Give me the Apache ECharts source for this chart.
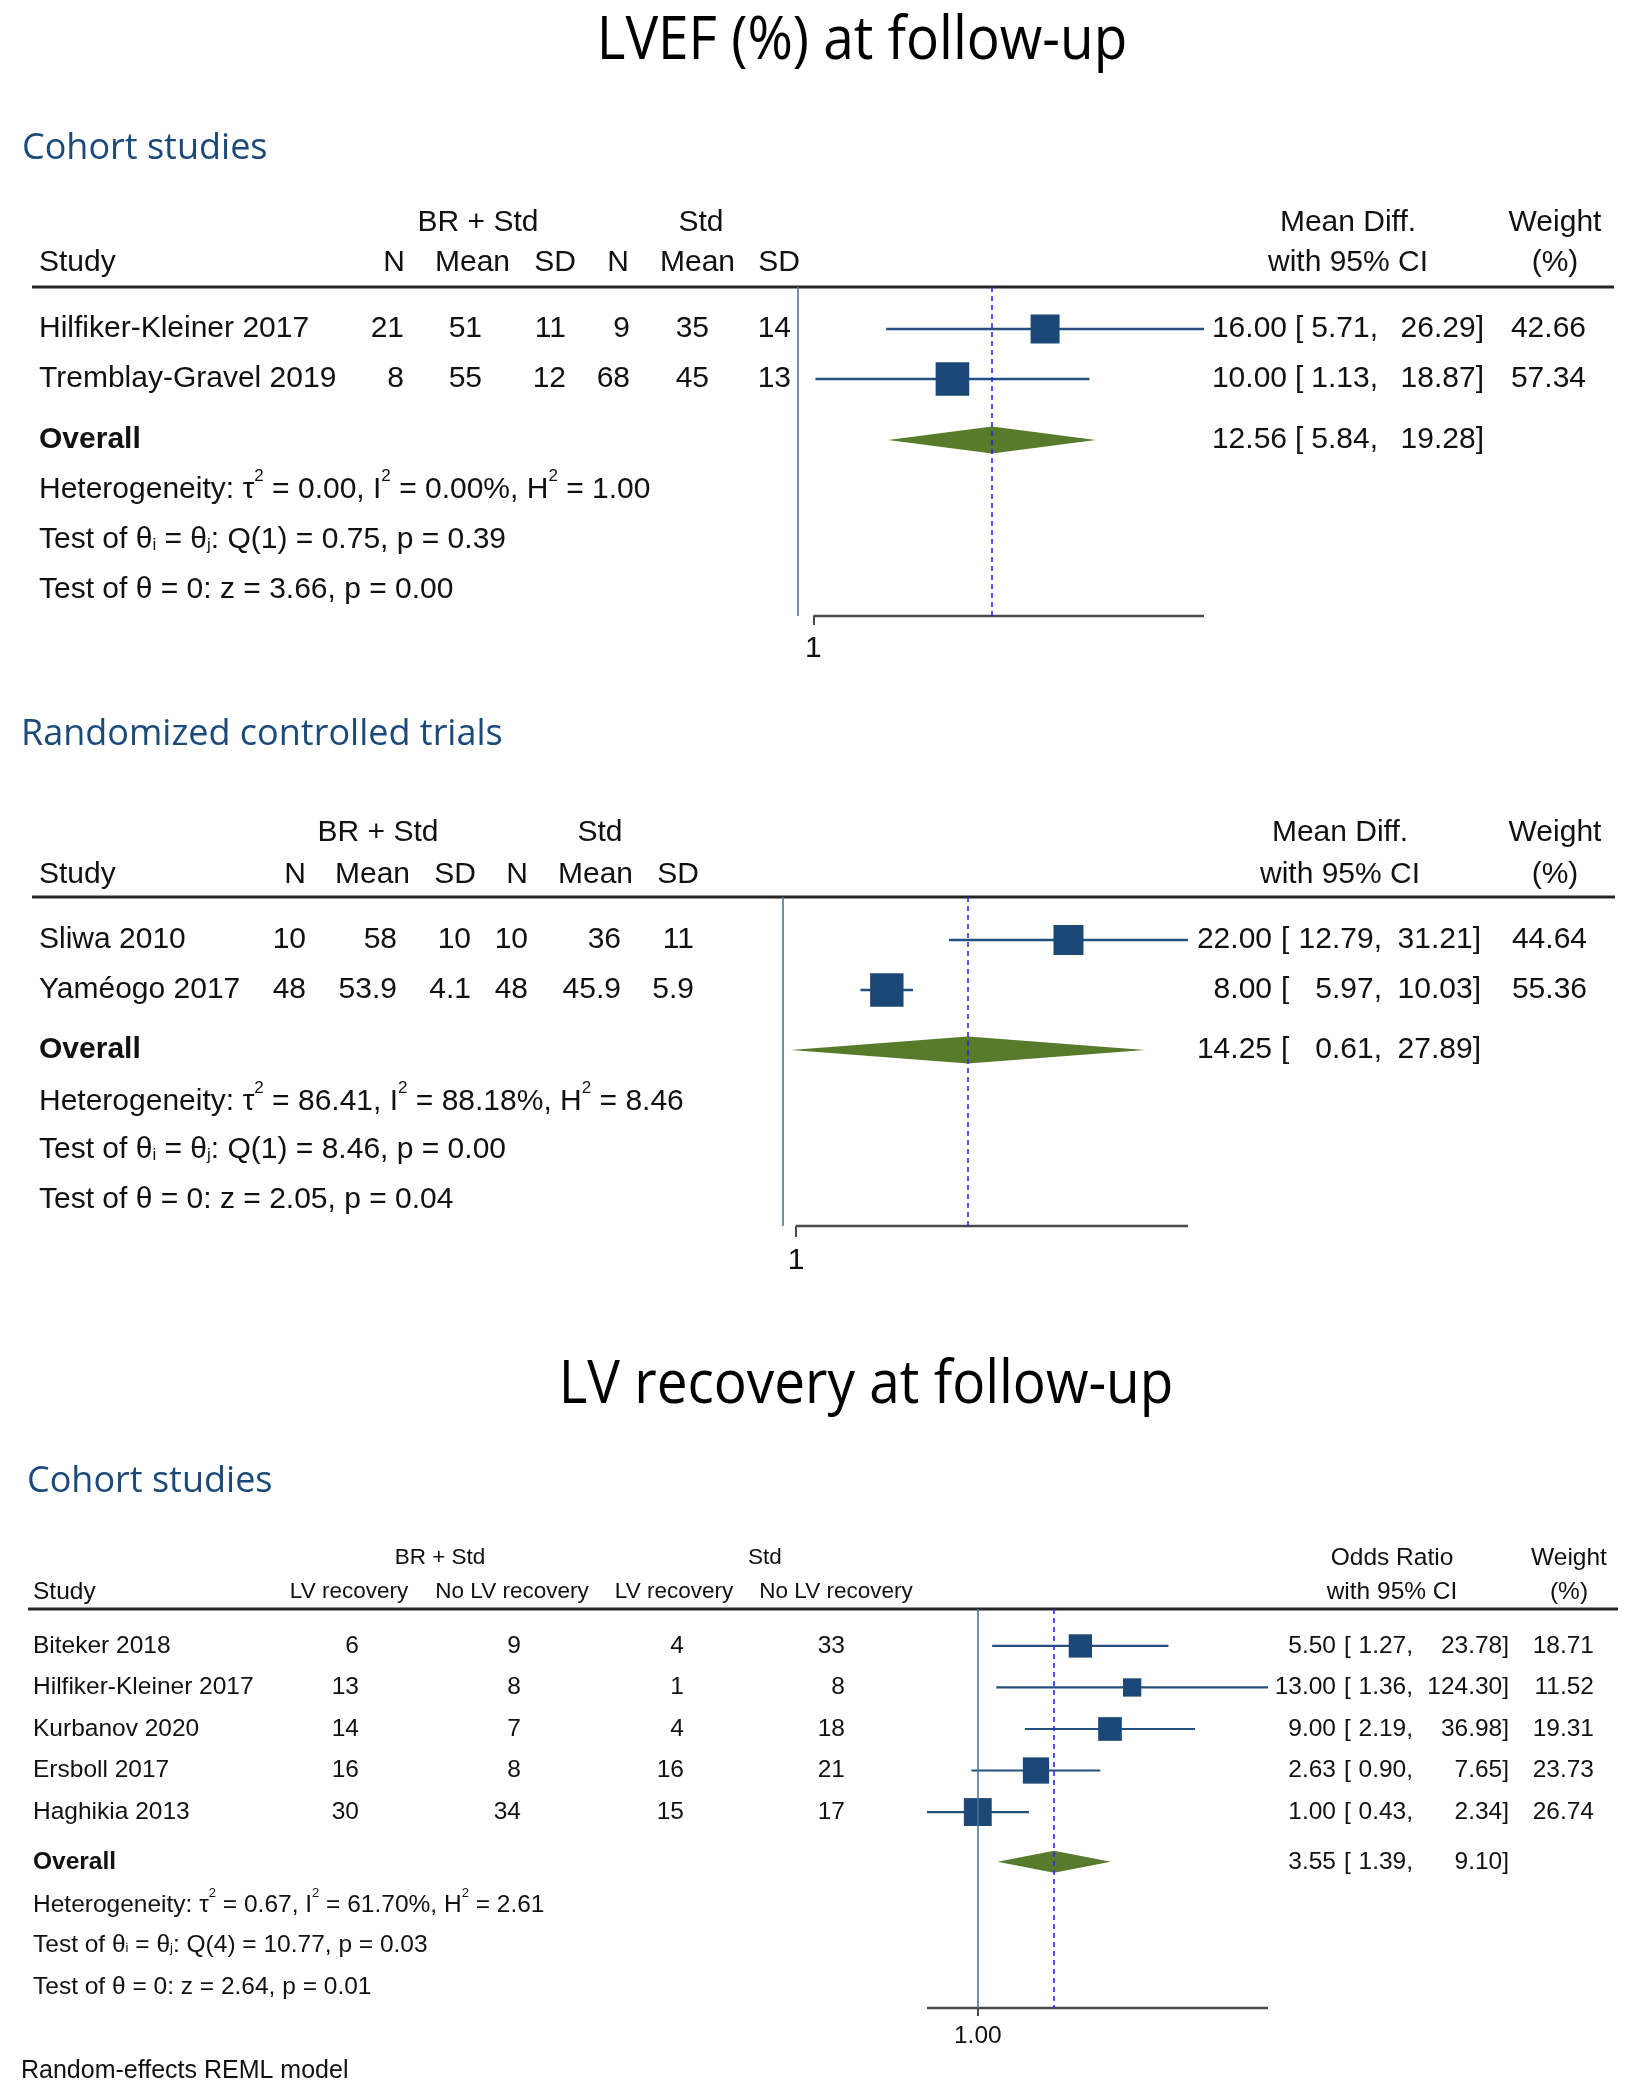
<!DOCTYPE html>
<html><head><meta charset="utf-8">
<script src="https://cdn.jsdelivr.net/npm/echarts@6/dist/echarts.min.js"></script>
<style>html,body{margin:0;padding:0;background:#fff}#c{width:1643px;height:2100px}</style>
</head><body><div id="c"></div>
<script>
// ================= DATA =================
// --- LVEF (%) at follow-up : cohort studies ---
const lvefCohortStudies = ['Hilfiker-Kleiner 2017', 'Tremblay-Gravel 2019'];
const lvefCohortBrN = [21, 8];
const lvefCohortBrMean = [51, 55];
const lvefCohortBrSD = [11, 12];
const lvefCohortStdN = [9, 68];
const lvefCohortStdMean = [35, 45];
const lvefCohortStdSD = [14, 13];
const lvefCohortMD = [16.00, 10.00];
const lvefCohortLo = [5.71, 1.13];
const lvefCohortHi = [26.29, 18.87];
const lvefCohortWeight = [42.66, 57.34];
const lvefCohortOverall = [12.56, 5.84, 19.28];
const lvefCohortAxisRange = [1, 26.29];
const lvefCohortTicks = [1];
const lvefCohortStats = [
  'Heterogeneity: τ{sup|2} = 0.00, I{sup|2} = 0.00%, H{sup|2} = 1.00',
  'Test of θ{sub|i} = θ{sub|j}: Q(1) = 0.75, p = 0.39',
  'Test of θ = 0: z = 3.66, p = 0.00'
];

// --- LVEF (%) at follow-up : randomized controlled trials ---
const lvefRctStudies = ['Sliwa 2010', 'Yaméogo 2017'];
const lvefRctBrN = [10, 48];
const lvefRctBrMean = [58, 53.9];
const lvefRctBrSD = [10, 4.1];
const lvefRctStdN = [10, 48];
const lvefRctStdMean = [36, 45.9];
const lvefRctStdSD = [11, 5.9];
const lvefRctMD = [22.00, 8.00];
const lvefRctLo = [12.79, 5.97];
const lvefRctHi = [31.21, 10.03];
const lvefRctWeight = [44.64, 55.36];
const lvefRctOverall = [14.25, 0.61, 27.89];
const lvefRctAxisRange = [1, 31.21];
const lvefRctTicks = [1];
const lvefRctStats = [
  'Heterogeneity: τ{sup|2} = 86.41, I{sup|2} = 88.18%, H{sup|2} = 8.46',
  'Test of θ{sub|i} = θ{sub|j}: Q(1) = 8.46, p = 0.00',
  'Test of θ = 0: z = 2.05, p = 0.04'
];

// --- LV recovery at follow-up : cohort studies ---
const lvrStudies = ['Biteker 2018', 'Hilfiker-Kleiner 2017', 'Kurbanov 2020', 'Ersboll 2017', 'Haghikia 2013'];
const lvrBrRec = [6, 13, 14, 16, 30];
const lvrBrNoRec = [9, 8, 7, 8, 34];
const lvrStdRec = [4, 1, 4, 16, 15];
const lvrStdNoRec = [33, 8, 18, 21, 17];
const lvrOR = [5.50, 13.00, 9.00, 2.63, 1.00];
const lvrLo = [1.27, 1.36, 2.19, 0.90, 0.43];
const lvrHi = [23.78, 124.30, 36.98, 7.65, 2.34];
const lvrWeight = [18.71, 11.52, 19.31, 23.73, 26.74];
const lvrOverall = [3.55, 1.39, 9.10];
const lvrAxisRange = [0.43, 124.30];
const lvrTicks = [1];
const lvrStats = [
  'Heterogeneity: τ{sup|2} = 0.67, I{sup|2} = 61.70%, H{sup|2} = 2.61',
  'Test of θ{sub|i} = θ{sub|j}: Q(4) = 10.77, p = 0.03',
  'Test of θ = 0: z = 2.64, p = 0.01'
];

// --- text labels ---
const mainTitles = ['LVEF (%) at follow-up', 'LV recovery at follow-up'];
const sectionTitles = ['Cohort studies', 'Randomized controlled trials', 'Cohort studies'];
const groupHeads = ['BR + Std', 'Std'];
const contColHeads = ['N', 'Mean', 'SD', 'N', 'Mean', 'SD'];
const binColHeads = ['LV recovery', 'No LV recovery', 'LV recovery', 'No LV recovery'];
const footnote = 'Random-effects REML model';

// ================= STYLE / LAYOUT =================
const FONT = "'Liberation Sans', Arial, sans-serif";
const TFONT = "'Open Sans', 'Noto Sans', sans-serif";
const TXT = '#111111';
const SEC_C = '#1b4a7a';
const CI_C = '#24507f';
const SQ_C = '#1b4876';
const NULL_C = '#50709a';
const DASH_C = '#2a2ae6';
const DIA_C = '#587a2b';
const AXIS_C = '#4a4a4a';
const RULE_C = '#262626';

const panels = [
  {
    studies: lvefCohortStudies,
    cols: [lvefCohortBrN, lvefCohortBrMean, lvefCohortBrSD, lvefCohortStdN, lvefCohortStdMean, lvefCohortStdSD],
    colHeads: contColHeads, effHead: ['Mean Diff.', 'with 95% CI'],
    est: lvefCohortMD, lo: lvefCohortLo, hi: lvefCohortHi, w: lvefCohortWeight,
    overall: lvefCohortOverall, axisRange: lvefCohortAxisRange, ticks: lvefCohortTicks,
    tickFmt: v => String(v), stats: lvefCohortStats, nullValue: 0, log: false,
    L: {grid: {left: 798, top: 287, width: 406, height: 329}, yMin: -0.84, yMax: 5.74,
        overallRow: 2.22, statRows: [3.22, 4.22, 5.22], headRows: [-2.12, -1.32],
        fs: 30, colFs: 30, studyX: 39, groupX: [478, 701], colHeadX: [405, 510, 576, 629, 735, 800], colHeadAlign: 'right',
        colValX: [404, 482, 566, 630, 709, 791], effHeadX: 1348, wHeadX: 1555,
        estX: 1287, brX: 1295, loX: 1378, hiX: 1484, wX: 1586, ruleX: [32, 1614],
        sqK: 4.44, diaH: 13.5, tickLen: 9, labelMargin: 18, ciW: 2.5}
  },
  {
    studies: lvefRctStudies,
    cols: [lvefRctBrN, lvefRctBrMean, lvefRctBrSD, lvefRctStdN, lvefRctStdMean, lvefRctStdSD],
    colHeads: contColHeads, effHead: ['Mean Diff.', 'with 95% CI'],
    est: lvefRctMD, lo: lvefRctLo, hi: lvefRctHi, w: lvefRctWeight,
    overall: lvefRctOverall, axisRange: lvefRctAxisRange, ticks: lvefRctTicks,
    tickFmt: v => String(v), stats: lvefRctStats, nullValue: 0, log: false,
    L: {grid: {left: 783, top: 897, width: 405, height: 329}, yMin: -0.86, yMax: 5.72,
        overallRow: 2.2, statRows: [3.24, 4.2, 5.2], headRows: [-2.14, -1.3],
        fs: 30, colFs: 30, studyX: 39, groupX: [378, 600], colHeadX: [306, 410, 476, 528, 633, 699], colHeadAlign: 'right',
        colValX: [306, 397, 471, 528, 621, 694], effHeadX: 1340, wHeadX: 1555,
        estX: 1272, brX: 1281, loX: 1382, hiX: 1481, wX: 1587, ruleX: [32, 1615],
        sqK: 4.49, diaH: 13.5, tickLen: 11, labelMargin: 20, ciW: 2.5}
  },
  {
    studies: lvrStudies,
    cols: [lvrBrRec, lvrBrNoRec, lvrStdRec, lvrStdNoRec],
    colHeads: binColHeads, effHead: ['Odds Ratio', 'with 95% CI'],
    est: lvrOR, lo: lvrLo, hi: lvrHi, w: lvrWeight,
    overall: lvrOverall, axisRange: lvrAxisRange, ticks: lvrTicks,
    tickFmt: v => v.toFixed(2), stats: lvrStats, nullValue: 1, log: true,
    L: {grid: {left: 927, top: 1609, width: 341, height: 399}, yMin: -0.89, yMax: 8.72,
        overallRow: 5.2, statRows: [6.24, 7.2, 8.22], headRows: [-2.12, -1.3], footRow: 10.25,
        fs: 24.5, colFs: 22.5, studyX: 33, groupX: [440, 765], colHeadX: [349, 512, 674, 836], colHeadAlign: 'center',
        colValX: [359, 521, 684, 845], effHeadX: 1392, wHeadX: 1569,
        estX: 1336, brX: 1344, loX: 1413, hiX: 1509, wX: 1594, ruleX: [28, 1618],
        sqK: 5.39, diaH: 11, tickLen: 8, labelMargin: 16, ciW: 2.2}
  }
];

// ================= CHART =================
const chart = echarts.init(document.getElementById('c'), null, {renderer: 'canvas'});

const grids = [], xAxes = [], yAxes = [], series = [];
panels.forEach((p, gi) => {
  const L = p.L;
  grids.push(Object.assign({}, L.grid));
  xAxes.push({
    gridIndex: gi, type: p.log ? 'log' : 'value', position: 'bottom',
    min: Math.min(p.nullValue, p.axisRange[0]), max: p.axisRange[1],
    axisLine: {show: false, onZero: false}, splitLine: {show: false},
    axisTick: {show: true, customValues: p.ticks, length: L.tickLen, lineStyle: {color: AXIS_C, width: 2}},
    axisLabel: {show: true, customValues: p.ticks, formatter: p.tickFmt, fontSize: L.fs,
                fontFamily: FONT, color: TXT, margin: L.labelMargin}
  });
  yAxes.push({gridIndex: gi, type: 'value', inverse: true, min: L.yMin, max: L.yMax, show: false});

  // study CIs + weight squares
  series.push({
    type: 'custom', xAxisIndex: gi, yAxisIndex: gi, silent: true,
    data: p.est.map((e, i) => [p.lo[i], p.hi[i], i, e, p.w[i]]),
    encode: {x: [0, 1, 3], y: 2},
    renderItem: (params, api) => {
      const a = api.coord([api.value(0), api.value(2)]);
      const b = api.coord([api.value(1), api.value(2)]);
      const c = api.coord([api.value(3), api.value(2)]);
      const s = L.sqK * Math.sqrt(api.value(4));
      return {type: 'group', children: [
        {type: 'line', shape: {x1: a[0], y1: a[1], x2: b[0], y2: b[1]}, style: {stroke: CI_C, lineWidth: L.ciW}},
        {type: 'rect', shape: {x: c[0] - s / 2, y: c[1] - s / 2, width: s, height: s}, style: {fill: SQ_C}}
      ]};
    }
  });
  // overall diamond + reference lines
  series.push({
    type: 'custom', xAxisIndex: gi, yAxisIndex: gi, silent: true, clip: false,
    data: [[p.overall[0], p.overall[1], p.overall[2], L.overallRow]],
    encode: {x: [0, 1, 2], y: 3},
    renderItem: (params, api) => {
      const r = api.value(3);
      const c = api.coord([api.value(0), r]);
      const a = api.coord([api.value(1), r]);
      const b = api.coord([api.value(2), r]);
      return {type: 'polygon', shape: {points: [[a[0], a[1]], [c[0], c[1] - L.diaH], [b[0], b[1]], [c[0], c[1] + L.diaH]]},
              style: {fill: DIA_C}};
    },
    markLine: {
      silent: true, symbol: ['none', 'none'], label: {show: false}, animation: false,
      data: [
        {xAxis: p.nullValue, lineStyle: {type: 'solid', color: NULL_C, width: 1.6}},
        {xAxis: p.overall[0], lineStyle: {type: [5, 4], color: DASH_C, width: 1.6}}
      ]
    }
  });
  // x axis line (spans the plotted range only)
  series.push({
    type: 'line', xAxisIndex: gi, yAxisIndex: gi, silent: true, clip: false, showSymbol: false, symbol: 'none',
    data: [[p.axisRange[0], L.yMax], [p.axisRange[1], L.yMax]],
    lineStyle: {color: AXIS_C, width: 2.5}
  });
});

chart.setOption({
  animation: false, backgroundColor: '#ffffff',
  grid: grids, xAxis: xAxes, yAxis: yAxes, series: series
});

// ================= TEXT (positioned through each grid's y scale) =================
const G = [];
function txt(x, y, text, o, extra) {
  o = o || {};
  G.push(Object.assign({type: 'text', x: x, y: y, silent: true, style: Object.assign({
    text: text, fontFamily: FONT, fontSize: 30, fill: TXT, align: 'left', verticalAlign: 'middle'
  }, o)}, extra || {}));
}
function richStyle(fs) {
  const sfs = Math.round(fs * 0.55);
  const lh = Math.round(fs * 1.45);
  const subH = Math.round(fs * 1.13);
  return {
    n: {fontSize: fs, fontFamily: FONT, fill: TXT, lineHeight: lh},
    sup: {fontSize: sfs, fontFamily: FONT, fill: TXT, lineHeight: sfs, verticalAlign: 'top'},
    sub: {fontSize: sfs, fontFamily: FONT, fill: TXT, height: subH, lineHeight: subH, verticalAlign: 'bottom'}
  };
}
function toRich(s) {
  return s.split(/(\{(?:sup|sub)\|[^}]*\})/).filter(t => t.length).map(t => t.startsWith('{') ? t : '{n|' + t + '}').join('');
}

// main titles & section titles
txt(862, 42, mainTitles[0], {fontFamily: TFONT, fontSize: 61, align: 'center', fill: '#000'}, {scaleX: 0.9});
txt(22, 149, sectionTitles[0], {fontFamily: TFONT, fontSize: 36, fill: SEC_C});
txt(21, 735, sectionTitles[1], {fontFamily: TFONT, fontSize: 36, fill: SEC_C});
txt(866, 1386, mainTitles[1], {fontFamily: TFONT, fontSize: 61, align: 'center', fill: '#000'}, {scaleX: 0.9});
txt(27, 1482, sectionTitles[2], {fontFamily: TFONT, fontSize: 36, fill: SEC_C});

panels.forEach((p, gi) => {
  const L = p.L;
  const py = r => chart.convertToPixel({gridIndex: gi}, [p.axisRange[0], r])[1];
  const fs = L.fs, cfs = L.colFs;
  const h1 = py(L.headRows[0]), h2 = py(L.headRows[1]);
  // header rows
  txt(L.groupX[0], h1, groupHeads[0], {fontSize: cfs, align: 'center'});
  txt(L.groupX[1], h1, groupHeads[1], {fontSize: cfs, align: 'center'});
  txt(L.effHeadX, h1, p.effHead[0], {fontSize: fs, align: 'center'});
  txt(L.wHeadX, h1, 'Weight', {fontSize: fs, align: 'center'});
  txt(L.studyX, h2, 'Study', {fontSize: fs});
  p.colHeads.forEach((h, k) => txt(L.colHeadX[k], h2, h, {fontSize: cfs, align: L.colHeadAlign}));
  txt(L.effHeadX, h2, p.effHead[1], {fontSize: fs, align: 'center'});
  txt(L.wHeadX, h2, '(%)', {fontSize: fs, align: 'center'});
  // rule under the header
  const ry = py(L.yMin);
  G.push({type: 'line', silent: true, shape: {x1: L.ruleX[0], y1: ry, x2: L.ruleX[1], y2: ry},
          style: {stroke: RULE_C, lineWidth: 3}});
  // study rows
  p.studies.forEach((s, i) => {
    const y = py(i);
    txt(L.studyX, y, s, {fontSize: fs});
    p.cols.forEach((col, k) => txt(L.colValX[k], y, String(col[i]), {fontSize: fs, align: 'right'}));
    txt(L.estX, y, p.est[i].toFixed(2), {fontSize: fs, align: 'right'});
    txt(L.brX, y, '[', {fontSize: fs});
    txt(L.loX, y, p.lo[i].toFixed(2) + ',', {fontSize: fs, align: 'right'});
    txt(L.hiX, y, p.hi[i].toFixed(2) + ']', {fontSize: fs, align: 'right'});
    txt(L.wX, y, p.w[i].toFixed(2), {fontSize: fs, align: 'right'});
  });
  // overall row
  const oy = py(L.overallRow);
  txt(L.studyX, oy, 'Overall', {fontSize: fs, fontWeight: 'bold'});
  txt(L.estX, oy, p.overall[0].toFixed(2), {fontSize: fs, align: 'right'});
  txt(L.brX, oy, '[', {fontSize: fs});
  txt(L.loX, oy, p.overall[1].toFixed(2) + ',', {fontSize: fs, align: 'right'});
  txt(L.hiX, oy, p.overall[2].toFixed(2) + ']', {fontSize: fs, align: 'right'});
  // statistics
  p.stats.forEach((s, k) => {
    txt(L.studyX, py(L.statRows[k]), toRich(s), {fontSize: fs, rich: richStyle(fs)});
  });
  if (L.footRow != null) {
    txt(21, py(L.footRow), footnote, {fontSize: 25});
  }
});

chart.setOption({graphic: {elements: G}});
</script>
</body></html>
